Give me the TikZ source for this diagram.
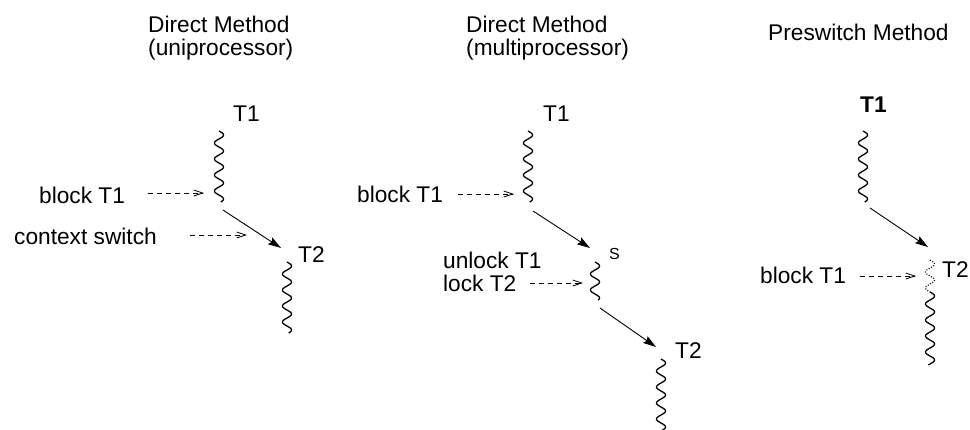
\documentclass[tikz,border=0pt]{standalone}
\usepackage{fontspec}
\setmainfont{Liberation Sans}
\usetikzlibrary{arrows.meta}

% a thread of execution: a short vertical wavy line with named ends
% (period 16pt, so the phase grows by 22.5 degrees per point)
\newcommand\threadwave[5]{%
  \coordinate (#1-top) at (#2,#3);
  \coordinate (#1-bot) at (#2,#4);
  \draw[#5] plot[domain=#3:#4,samples=140,smooth] ({#2+4.5*sin(22.5*(\x-#3))},\x);
}

\begin{document}
\begin{tikzpicture}[x=1pt,y=-1pt,
  lbl/.style={anchor=base west, inner sep=0pt, font=\fontsize{22.7}{23}\selectfont},
  small/.style={anchor=base west, inner sep=0pt, font=\fontsize{16}{16}\selectfont},
  wave/.style={line width=1.3pt, line join=round},
  dotwave/.style={line width=1.1pt, dash pattern=on 1pt off 1.6pt},
  switch/.style={line width=0.9pt, -{Stealth[length=13pt,width=8pt,inset=2pt]}},
  event/.style={line width=0.8pt, dash pattern=on 5pt off 4pt,
    -{Straight Barb[length=9pt,width=6pt,line width=0.8pt]}}]
\useasboundingbox (0,0) rectangle (970,429);

% ---- direct method, uniprocessor ----
\node[lbl] (ttlA) at (148,32) {Direct Method};
\node[lbl] (subA) at (148,55) {(uniprocessor)};
\node[lbl] (aT1) at (233,121) {T1};
\threadwave{aw1}{219}{131}{202}{wave}
\node[lbl] (aT2) at (298,262) {T2};
\threadwave{aw2}{287}{262}{333}{wave}
\coordinate (aS) at (223,210);
\coordinate (aE) at (281,248);
\draw[switch] (aS) -- (aE);
\node[lbl] (aBlk) at (39,203) {block T1};
\coordinate (aBlkS) at (148,193);
\coordinate (aBlkE) at (204,193);
\draw[event] (aBlkS) -- (aBlkE);
\node[lbl] (aCtx) at (14,244) {context switch};
\coordinate (aCtxS) at (190,235);
\coordinate (aCtxE) at (247,235);
\draw[event] (aCtxS) -- (aCtxE);

% ---- direct method, multiprocessor ----
\node[lbl] (ttlB) at (466,32) {Direct Method};
\node[lbl] (subB) at (466,55) {(multiprocessor)};
\node[lbl] (bT1) at (543,121) {T1};
\threadwave{bw1}{528}{131}{202}{wave}
\node[lbl] (bBlk) at (357,202) {block T1};
\coordinate (bBlkS) at (458,194);
\coordinate (bBlkE) at (514,194);
\draw[event] (bBlkS) -- (bBlkE);
\coordinate (bS1) at (533,211);
\coordinate (bE1) at (590,248);
\draw[switch] (bS1) -- (bE1);
\node[small] (bSch) at (609,259) {S};
\threadwave{bws}{595}{262}{300}{wave}
\node[lbl] (bUnl) at (443,268) {unlock T1};
\node[lbl] (bLck) at (443,291) {lock T2};
\coordinate (bLckS) at (530,283);
\coordinate (bLckE) at (583,283);
\draw[event] (bLckS) -- (bLckE);
\coordinate (bS2) at (600,308);
\coordinate (bE2) at (656,347);
\draw[switch] (bS2) -- (bE2);
\node[lbl] (bT2) at (675,358) {T2};
\threadwave{bw2}{661}{359}{431}{wave}

% ---- preswitch method ----
\node[lbl] (ttlC) at (768,40) {Preswitch Method};
\node[lbl,font=\fontsize{22.7}{23}\selectfont\bfseries] (cT1) at (860,112) {T1};
\threadwave{cw1}{863}{131}{202}{wave}
\coordinate (cS) at (870,208);
\coordinate (cE) at (928,247);
\draw[switch] (cS) -- (cE);
\node[lbl] (cT2) at (942,277) {T2};
\threadwave{cwd}{930}{260}{292}{dotwave}
\threadwave{cw2}{930}{292}{365}{wave}
\node[lbl] (cBlk) at (760,283) {block T1};
\coordinate (cBlkS) at (860,276);
\coordinate (cBlkE) at (916,276);
\draw[event] (cBlkS) -- (cBlkE);
\end{tikzpicture}
\end{document}
